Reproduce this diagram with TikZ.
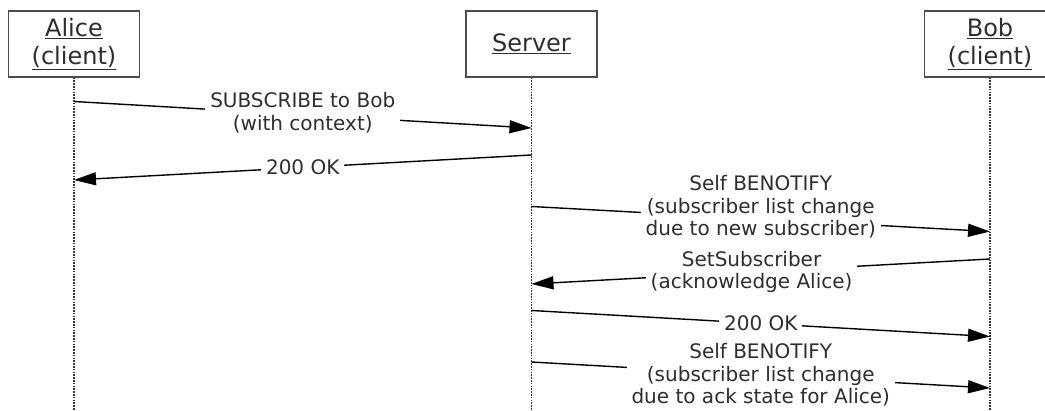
\documentclass[tikz,border=0pt]{standalone}
\usepackage{fontspec}
\setmainfont{DejaVu Sans}
\usetikzlibrary{arrows.meta}
\definecolor{txt}{HTML}{2E2E2E}
\begin{document}
\begin{tikzpicture}[x=1pt,y=-1pt,
  actor/.style={draw=black!70, line width=1.3pt, minimum width=131pt, minimum height=66pt, align=center, text=txt, font=\fontsize{24}{27.5}\selectfont, inner sep=0pt},
  lifeline/.style={draw=black!80, line width=1.5pt, dash pattern=on 1.5pt off 1.3pt},
  msg/.style={draw=black, line width=1.4pt, -{Triangle[length=22pt,width=13pt]}},
  lbl/.style={fill=white, text=txt, align=center, font=\fontsize{20}{22.5}\selectfont, inner xsep=5pt, inner ysep=1pt}]
\useasboundingbox (0,0) rectangle (1045,411);
% actors
\node[actor] (alice) at (74,44) {\underline{Alice}\\\underline{(client)}};
\node[actor] (server) at (531.5,44) {\underline{Server}};
\node[actor] (bob) at (990,44) {\underline{Bob}\\\underline{(client)}};
% lifeline ends
\coordinate (aend) at (74,411);
\coordinate (send) at (531.5,411);
\coordinate (bend) at (990,411);
\draw[lifeline] (alice.south) -- (aend);
\draw[lifeline] (server.south) -- (send);
\draw[lifeline] (bob.south) -- (bend);
% message points
\coordinate (a1) at (74,101.5);   \coordinate (s1) at (531.5,128);
\coordinate (s2) at (531.5,155);  \coordinate (a2) at (74,180);
\coordinate (s3) at (531.5,206.5);\coordinate (b3) at (990,231.5);
\coordinate (b4) at (990,259);    \coordinate (s4) at (531.5,284);
\coordinate (s5) at (531.5,310.5);\coordinate (b5) at (990,336.5);
\coordinate (s6) at (531.5,362);  \coordinate (b6) at (990,388);
% messages
\draw[msg] (a1) -- node[lbl, midway, yshift=2pt] {SUBSCRIBE to Bob\\(with context)} (s1);
\draw[msg] (s2) -- node[lbl, midway] {200 OK} (a2);
\draw[msg] (s3) -- node[lbl, midway, yshift=12pt] {Self BENOTIFY\\(subscriber list change\\due to new subscriber)} (b3);
\draw[msg] (b4) -- node[lbl, pos=0.52] {SetSubscriber\\(acknowledge Alice)} (s4);
\draw[msg] (s5) -- node[lbl, midway] {200 OK} (b5);
\draw[msg] (s6) -- node[lbl, midway] {Self BENOTIFY\\(subscriber list change\\due to ack state for Alice)} (b6);
\end{tikzpicture}
\end{document}
